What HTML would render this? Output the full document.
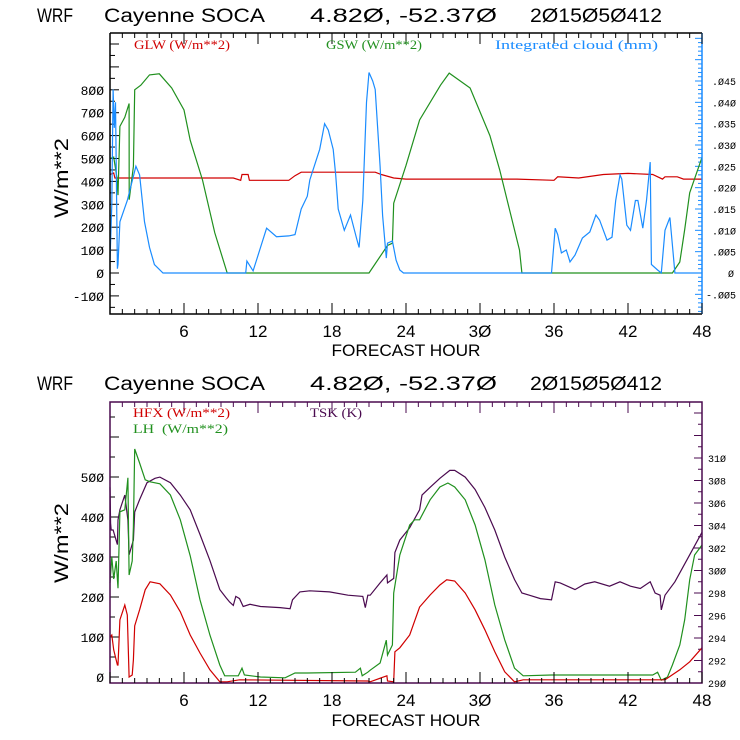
<!DOCTYPE html>
<html><head><meta charset="utf-8"><style>
html,body{margin:0;padding:0;background:#fff;}
svg{display:block;}
text{font-family:"Liberation Sans",sans-serif;white-space:pre;}
.lg{font-family:"Liberation Serif",serif;font-size:13px;}
.tk{font-family:"Liberation Mono",monospace;font-size:13px;}
.tr{font-family:"Liberation Mono",monospace;font-size:10px;}
</style></head><body>
<svg id="chart" width="740" height="740" viewBox="0 0 740 740" xmlns="http://www.w3.org/2000/svg">
<g id="top"></g>
<g id="bot"></g>
</svg>
<script>
// ---------- data: top panel ----------
const gswHours = [0,0.3,0.55,0.65,0.8,1.2,1.55,1.56,1.9,2.0,2.5,3.2,4.0,5.0,6.0,6.5,7.5,8.5,9.5,21,22.5,22.9,23.0,24,25.1,26.8,27.5,29.2,30.8,31.6,32.4,33.2,33.4,45.6,46.2,46.4,46.6,47,48];
const gswValues = [500,506,420,340,640,680,740,320,465,800,820,865,870,808,712,580,406,175,0,0,120,130,305,470,668,820,873,808,600,450,275,100,0,0,48,120,190,350,505];
const glwHours = [0,0.3,0.4,10,10.6,10.7,11.2,11.3,14.5,15,15.5,21.5,22,23,24,33,36,36.3,38,40,42,44,44.8,45,46,46.5,47,48];
const glwValues = [430,437,415,415,405,430,430,405,405,425,440,440,430,415,410,410,405,420,415,430,435,430,410,420,420,410,410,410];
const cloudHours = [0,0.15,0.25,0.35,0.45,0.6,0.65,0.8,1.4,2.1,2.4,2.8,3.2,3.6,4.3,11.0,11.1,11.6,12.7,13.5,14.5,15,15.5,16,16.2,17,17.4,17.7,18.1,18.3,18.5,19,19.5,20,20.2,20.5,20.8,21,21.3,21.5,21.9,22.1,22.4,22.5,22.9,23.2,23.5,23.8,35.8,36.1,36.3,36.6,37,37.3,37.7,38.3,38.9,39.4,39.7,40.3,40.7,41,41.35,41.5,41.9,42.2,42.6,42.8,43.2,43.5,43.8,43.9,44.4,44.7,45,45.4,45.65,45.8,48];
const cloudValues = [0.003,0.016,0.043,0.034,0.040,0.001,0.002,0.012,0.017,0.025,0.023,0.012,0.006,0.002,0,0,0.0028,0.0005,0.0105,0.0085,0.0087,0.009,0.015,0.018,0.0218,0.029,0.035,0.0335,0.029,0.023,0.015,0.010,0.0136,0.008,0.006,0.017,0.040,0.047,0.045,0.043,0.025,0.0135,0.0035,0.007,0.0075,0.003,0.0007,0,0,0.0105,0.009,0.0047,0.0054,0.0026,0.0042,0.0082,0.0096,0.0136,0.0124,0.0077,0.0084,0.017,0.023,0.022,0.0112,0.010,0.017,0.017,0.0105,0.017,0.026,0.002,0.0007,0,0.010,0.013,0.005,0,0];
// ---------- data: bottom panel ----------
const tskHours = [0,0.05,0.1,0.25,0.6,0.65,0.8,1.2,1.45,1.55,1.9,2.0,2.4,3.0,3.65,4.05,4.9,5.7,6.5,7.3,8.1,8.9,9.4,9.7,10,10.2,10.5,10.8,11.35,12.2,13.8,14.6,14.8,15.4,16.2,17.8,19.3,20.5,20.7,20.9,21.1,21.9,22.45,22.5,23,23.1,23.5,24.3,25.1,25.3,25.95,26.75,27.55,27.95,28.8,29.6,30.4,31.2,32,32.8,33.4,34,34.9,35.8,36.1,36.5,37.7,38.5,39.3,40.5,41.35,42.2,43,43.8,44.2,44.6,44.7,45,45.8,46.4,47,48];
const tskValues = [307.4,304.2,303.6,303.6,302.3,304.5,305.4,306.7,304.5,301.4,302.7,305.2,306.3,307.8,308.2,308.3,307.8,306.7,305.4,303.2,300.9,298.3,297.6,297.2,296.9,297.7,297.5,296.8,297.0,296.8,296.7,296.6,297.4,298.1,298.2,298.1,297.8,297.7,296.7,297.8,297.8,298.9,299.6,298.9,299.3,301.6,302.7,303.8,305.4,306.7,307.4,308.2,308.9,308.9,308.3,307.2,305.6,303.6,301.2,299.2,298.0,297.8,297.5,297.4,299.0,298.9,298.3,298.8,299.0,298.6,299.0,298.6,298.4,299.0,298.0,297.8,296.5,297.8,299.0,300.2,301.4,303.4];
const lhHours = [0,0.15,0.3,0.5,0.65,0.8,1.2,1.45,1.55,1.8,1.9,2.0,2.4,2.85,3.25,4.05,4.9,5.7,6.5,7.3,8.1,8.9,9.3,10.4,10.7,10.9,12.2,14.2,15,16,19.9,20.3,20.45,20.9,21.1,21.9,22.4,22.5,22.9,23.0,23.5,24.3,24.7,25.1,25.95,26.75,27.4,27.95,28.8,29.6,30.4,31.2,32,32.8,33.5,35.8,44.0,44.4,44.7,45.2,45.6,46.2,46.6,47,47.4,48];
const lhValues = [235,300,245,290,222,413,418,498,255,290,375,570,535,493,488,483,455,393,303,193,105,30,3,3,22,5,0,-2,10,10,12,22,3,12,17,35,92,55,80,210,305,380,393,393,443,475,485,475,443,380,293,180,93,22,3,5,5,12,-8,0,30,80,143,243,305,330];
const hfxHours = [0,0.15,0.3,0.6,0.65,0.8,1.2,1.4,1.55,1.8,1.9,2.0,2.4,2.85,3.25,4.05,4.9,5.7,6.5,7.3,8.1,8.9,9.5,10.5,20.9,21.1,22.45,22.5,23,23.1,23.5,24.3,25.1,25.95,26.75,27.3,27.95,28.8,29.6,30.4,31.2,32,32.8,33.5,45,46.2,47,48];
const hfxValues = [100,105,68,30,30,143,180,155,0,5,43,128,168,218,238,233,205,163,105,60,18,-12,-12,-7,-10,-12,3,-10,-12,63,73,105,175,205,230,243,240,210,168,118,63,13,-12,-7,-7,18,38,73];
const gswLegend = ["GLW (W/m**2)","GSW (W/m**2)","Integrated cloud (mm)"];
const botLegend = ["HFX (W/m**2)","LH  (W/m**2)","TSK (K)"];

const NS="http://www.w3.org/2000/svg";
function mk(parent,tag,attrs,txt){const e=document.createElementNS(NS,tag);for(const k in attrs)e.setAttribute(k,attrs[k]);if(txt!==undefined)e.textContent=txt;parent.appendChild(e);return e;}

const X0=110,X1=702;
const xs=h=>X0+h*(X1-X0)/48;
const yTop=v=>273-v*0.229;
const yCloud=c=>273-c*4266.7;
const yBot=v=>677-v*0.4;
const yTsk=t=>683-(t-290)*11.25;

const RED="#d00000",GRN="#20901e",BLU="#1a8cff",PUR="#4a0a4f";

function series(g,hrs,vals,yf,color,name){
  let d="";
  for(let i=0;i<hrs.length;i++){d+=(i?"L":"M")+xs(hrs[i]).toFixed(1)+","+yf(vals[i]).toFixed(1);}
  const p=mk(g,"path",{d:d,fill:"none",stroke:color,"stroke-width":1.2});
  
  
}
function title(g,y){
  const parts=[["WRF",37,73],["Cayenne SOCA",104,265],["4.82Ø, -52.37Ø",310,497],["2Ø15Ø5Ø412",530,662]];
  for(const p of parts){
    const t=mk(g,"text",{x:p[1],y:y,"font-size":19,textLength:p[2]-p[1],lengthAdjust:"spacingAndGlyphs",fill:"#000","font-weight":"300"},p[0]);
    
    
  }
}
function xaxis(g,yb,yt,labY,ttlY){
  for(let h=0;h<=48;h++){
    const len=(h%6===0)?11:5;const x=xs(h);
    mk(g,"line",{x1:x,y1:yb,x2:x,y2:yb-len,stroke:"#000"});
    mk(g,"line",{x1:x,y1:yt,x2:x,y2:yt+len,stroke:g.dataset.fc});
    if(h%6===0&&h>0){const t=mk(g,"text",{x:x,y:labY,"text-anchor":"middle","font-size":17,fill:"#000"},String(h).replace(/0/g,"Ø"));
      
      }
  }
  const t=mk(g,"text",{x:406,y:ttlY,"text-anchor":"middle","font-size":17,textLength:149,lengthAdjust:"spacingAndGlyphs",fill:"#000"},"FORECAST HOUR");
  
  
}
function ytitle(g,cy){
  const t=mk(g,"text",{x:0,y:0,"font-size":19,"text-anchor":"middle",transform:`translate(68,${cy}) rotate(-90)`,textLength:80,lengthAdjust:"spacingAndGlyphs",fill:"#000"},"W/m**2");
  
  
}
function legend(g,x,y,txt,color,w){
  const t=mk(g,"text",{x:x,y:y,fill:color,class:"lg",textLength:w,lengthAdjust:"spacingAndGlyphs"},txt);
  
  
}

// ===== TOP =====
const gt=document.getElementById("top");
gt.dataset.fc="#000";
title(gt,22);
const T0=33,T1=314;
for(let v=-150;v<=1000;v+=50){const y=yTop(v);if(y<T0||y>T1)continue;const len=(v%100===0)?9:5;
  mk(gt,"line",{x1:X0,y1:y,x2:X0+len,y2:y,stroke:"#000"});
  if(v%100===0&&v>=-100&&v<=800){const t=mk(gt,"text",{x:104,y:y+5,"text-anchor":"end",class:"tk",fill:"#000"},String(v).replace(/0/g,"Ø"));
    
    }}
for(let i=-9;i<=55;i++){const c=i*0.001;const y=yCloud(c);if(y<T0||y>T1)continue;const len=(i%5===0)?7:4;
  mk(gt,"line",{x1:X1,y1:y,x2:X1-len,y2:y,stroke:BLU});
  if(i%5===0&&i>=-5&&i<=45){let s=c===0?"Ø":(c<0?"-.":".")+String(Math.round(Math.abs(c)*1000)).padStart(3,"0").replace(/0/g,"Ø");
    const t=mk(gt,"text",{x:c===0?728:(c<0?706:712),y:y+4,class:"tr",fill:"#000"},s);
    
    }}
series(gt,glwHours,glwValues,yTop,RED,"glw-line");
series(gt,gswHours,gswValues,yTop,GRN,"gsw-line");
series(gt,cloudHours,cloudValues,yCloud,BLU,"cloud-line");
mk(gt,"path",{d:`M${X0},${T0}H${X1}`,stroke:"#000","stroke-width":1.5});
mk(gt,"path",{d:`M${X0},${T0}V${T1}H${X1}`,fill:"none",stroke:"#000","stroke-width":1.5});
mk(gt,"path",{d:`M${X1},${T0}V${T1}`,stroke:BLU,"stroke-width":1.5});
xaxis(gt,T1,T0,337,356);
ytitle(gt,178);
legend(gt,134,49,gswLegend[0],RED,96);
legend(gt,326,49,gswLegend[1],GRN,96);
legend(gt,495,49,gswLegend[2],BLU,163);

// ===== BOTTOM =====
const gb=document.getElementById("bot");
gb.dataset.fc=PUR;
title(gb,390);
const B0=402,B1=683;
for(let v=0;v<=650;v+=50){const y=yBot(v);if(y<B0)continue;const len=(v%100===0)?9:5;
  mk(gb,"line",{x1:X0,y1:y,x2:X0+len,y2:y,stroke:"#000"});
  if(v%100===0&&v<=500){const t=mk(gb,"text",{x:104,y:y+5,"text-anchor":"end",class:"tk",fill:"#000"},String(v).replace(/0/g,"Ø"));
    
    }}
for(let k=290;k<=314;k++){const y=yTsk(k);if(y<B0)continue;const len=(k%2===0)?8:4;
  mk(gb,"line",{x1:X1,y1:y,x2:X1-len,y2:y,stroke:PUR});
  if(k%2===0&&k<=310){const t=mk(gb,"text",{x:708,y:y+4,class:"tr",fill:"#000"},String(k).replace(/0/g,"Ø"));
    
    }}
series(gb,tskHours,tskValues,yTsk,PUR,"tsk-line");
series(gb,lhHours,lhValues,yBot,GRN,"lh-line");
series(gb,hfxHours,hfxValues,yBot,RED,"hfx-line");
mk(gb,"rect",{x:X0,y:B0,width:X1-X0,height:B1-B0,fill:"none",stroke:PUR,"stroke-width":1.5});
xaxis(gb,B1,B0,706,726);
ytitle(gb,543);
legend(gb,133,417,botLegend[0],RED,97);
legend(gb,133,433,botLegend[1],GRN,95);
legend(gb,310,417,botLegend[2],PUR,52);
</script>
</body></html>
